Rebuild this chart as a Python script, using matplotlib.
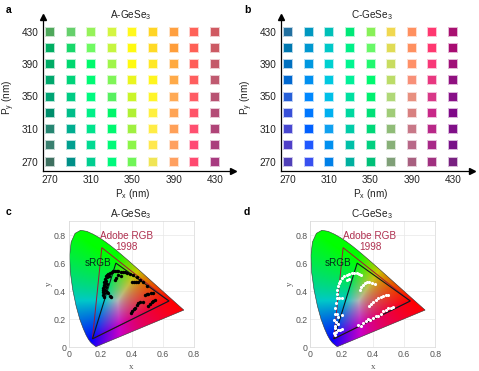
import numpy as np
import matplotlib
matplotlib.use("Agg")
import matplotlib.pyplot as plt
from matplotlib.patches import Polygon

plt.rcParams['font.family'] = ['Liberation Sans', 'DejaVu Sans']
plt.rcParams['mathtext.fontset'] = 'custom'
plt.rcParams['mathtext.rm'] = 'Liberation Sans'
plt.rcParams['mathtext.default'] = 'regular'

sizes_px = [270, 290, 310, 330, 350, 370, 390, 410, 430]
tick_vals = [270, 310, 350, 390, 430]

# rows run from Py=430 (top) to Py=270 (bottom), columns Px=270..430
colors_a = [
    ['#4FA85B', '#66D06C', '#96F25A', '#D4F542', '#FFF81E', '#FFD525', '#FFA040', '#FF6258', '#D05A62'],
    ['#00AE62', '#18D86A', '#70FA62', '#C6F540', '#FFFA10', '#FFDA25', '#FF9E3A', '#FF6056', '#CC5A64'],
    ['#00AC66', '#00D870', '#00FA6C', '#A0F54A', '#FFFA10', '#FFE825', '#FFAA40', '#FF5E58', '#C45A6A'],
    ['#00A86C', '#00D47A', '#00FA74', '#80F558', '#EAF520', '#FFF51E', '#FFAA48', '#FF5E5E', '#C05A70'],
    ['#00A474', '#00CC84', '#00FA80', '#58F060', '#CAF52A', '#FFF52A', '#FFAA55', '#FF5C64', '#B85272'],
    ['#008E6C', '#00BE8A', '#00F088', '#00F56A', '#B0F034', '#FFF040', '#FFA455', '#FF5468', '#B44C76'],
    ['#268672', '#00AE90', '#00E48C', '#00F870', '#A0F040', '#FFEC45', '#FFA058', '#FF5070', '#B04478'],
    ['#3A8070', '#00A090', '#00DA92', '#00FA78', '#8CF548', '#FFE84E', '#FFA060', '#FF4A74', '#AA3E7C'],
    ['#3E7060', '#009088', '#00CE90', '#00F87C', '#70F558', '#F0E555', '#FFA060', '#FF4A70', '#A83A80'],
]
colors_c = [
    ['#2270A0', '#0098C0', '#00C0B8', '#00E878', '#88F058', '#F0D850', '#FF9060', '#FF3870', '#A81070'],
    ['#0078B0', '#0098D0', '#00C8C8', '#00F088', '#68F868', '#E0DC55', '#FF9060', '#FF3870', '#A80C72'],
    ['#0070C0', '#0098E0', '#00D0D0', '#00F590', '#20F870', '#C8DC60', '#FF9068', '#F83878', '#A01078'],
    ['#0068D0', '#0090F0', '#00C8E0', '#00F098', '#00F870', '#BCDC68', '#F89078', '#E83880', '#901080'],
    ['#2860D8', '#0088FF', '#00C0E8', '#00E0A0', '#00F070', '#B0D878', '#E89080', '#D83888', '#881088'],
    ['#3850D8', '#0078FF', '#00B0F0', '#00D8A0', '#00E078', '#A0CC78', '#D88080', '#C82888', '#800888'],
    ['#4848D0', '#0060FF', '#10A0F0', '#00CCA8', '#00D878', '#90BC78', '#C87888', '#B82888', '#801088'],
    ['#5040C8', '#2058FF', '#0090F0', '#00C0A8', '#00D080', '#88B078', '#B86888', '#A82888', '#781088'],
    ['#5040B8', '#3850F0', '#0080E8', '#00B0A0', '#00C078', '#80A078', '#A86080', '#A03080', '#782080'],
]

# CIE 1931 spectral locus
locus_x = [0.1741, 0.1738, 0.1726, 0.1689, 0.1644, 0.1566, 0.1440, 0.1355, 0.1241, 0.1096, 0.0913, 0.0687,
           0.0454, 0.0235, 0.0082, 0.0039, 0.0139, 0.0389, 0.0743, 0.1142, 0.1547, 0.1929, 0.2296, 0.2658,
           0.3016, 0.3373, 0.3731, 0.4087, 0.4441, 0.4788, 0.5125, 0.5448, 0.5752, 0.6029, 0.6270, 0.6482,
           0.6658, 0.6915, 0.7079, 0.7190, 0.7260, 0.7300, 0.7334, 0.7347]
locus_y = [0.0050, 0.0049, 0.0048, 0.0069, 0.0109, 0.0177, 0.0297, 0.0399, 0.0578, 0.0868, 0.1327, 0.2007,
           0.2950, 0.4127, 0.5384, 0.6548, 0.7502, 0.8120, 0.8338, 0.8262, 0.8059, 0.7816, 0.7543, 0.7243,
           0.6923, 0.6589, 0.6245, 0.5896, 0.5547, 0.5202, 0.4866, 0.4544, 0.4242, 0.3965, 0.3725, 0.3514,
           0.3340, 0.3083, 0.2920, 0.2809, 0.2740, 0.2700, 0.2666, 0.2653]

adobe_x = [0.64, 0.21, 0.15]
adobe_y = [0.33, 0.71, 0.06]
srgb_x = [0.64, 0.30, 0.15]
srgb_y = [0.33, 0.60, 0.06]

pts_a_x = [0.215, 0.217, 0.218, 0.220, 0.222, 0.224, 0.226, 0.230, 0.224, 0.232, 0.235, 0.238, 0.241, 0.246, 0.252,
           0.258, 0.264, 0.273, 0.283, 0.294, 0.305, 0.316, 0.330, 0.345, 0.358, 0.372, 0.390, 0.410, 0.432, 0.454,
           0.475, 0.497, 0.222, 0.240, 0.250, 0.262, 0.270, 0.294, 0.303, 0.315, 0.330, 0.400, 0.415, 0.430, 0.443,
           0.486, 0.497, 0.507, 0.522, 0.539, 0.394, 0.405, 0.413, 0.420, 0.432, 0.443, 0.457, 0.471, 0.507, 0.518,
           0.529, 0.540, 0.550, 0.235, 0.245, 0.228]
pts_a_y = [0.373, 0.395, 0.420, 0.405, 0.445, 0.468, 0.435, 0.455, 0.385, 0.490, 0.475, 0.505, 0.515, 0.500, 0.525,
           0.510, 0.530, 0.540, 0.545, 0.545, 0.544, 0.545, 0.540, 0.538, 0.534, 0.530, 0.520, 0.515, 0.500, 0.480,
           0.462, 0.440, 0.360, 0.397, 0.385, 0.366, 0.355, 0.480, 0.495, 0.515, 0.505, 0.468, 0.465, 0.468, 0.468,
           0.373, 0.378, 0.382, 0.388, 0.385, 0.242, 0.262, 0.272, 0.283, 0.298, 0.313, 0.322, 0.325, 0.295, 0.305,
           0.320, 0.332, 0.337, 0.430, 0.450, 0.410]

pts_c_x = [0.158, 0.154, 0.156, 0.158, 0.162, 0.168, 0.170, 0.173, 0.176, 0.181, 0.190, 0.200, 0.216, 0.232, 0.248,
           0.264, 0.280, 0.296, 0.310, 0.322, 0.232, 0.250, 0.200, 0.185, 0.158, 0.150, 0.165, 0.179, 0.190, 0.200,
           0.165, 0.175, 0.200, 0.180, 0.155, 0.170, 0.318, 0.325, 0.335, 0.347, 0.360, 0.376, 0.392, 0.414, 0.377,
           0.390, 0.403, 0.418, 0.435, 0.450, 0.467, 0.483, 0.499, 0.307, 0.322, 0.339, 0.355, 0.371, 0.385, 0.403,
           0.418, 0.435, 0.450, 0.467, 0.483, 0.499, 0.515, 0.531]
pts_c_y = [0.135, 0.195, 0.235, 0.278, 0.315, 0.349, 0.380, 0.409, 0.435, 0.456, 0.475, 0.492, 0.505, 0.515, 0.520,
           0.527, 0.530, 0.527, 0.525, 0.515, 0.480, 0.490, 0.349, 0.350, 0.088, 0.105, 0.110, 0.124, 0.120, 0.128,
           0.180, 0.165, 0.230, 0.215, 0.155, 0.240, 0.409, 0.428, 0.444, 0.455, 0.463, 0.465, 0.461, 0.454, 0.297,
           0.310, 0.325, 0.338, 0.349, 0.358, 0.366, 0.370, 0.371, 0.159, 0.155, 0.171, 0.185, 0.202, 0.195, 0.211,
           0.220, 0.226, 0.240, 0.259, 0.268, 0.278, 0.283, 0.290]

W, H = 479, 371
fig = plt.figure(figsize=(W / 100, H / 100), dpi=100)


def add_axes(l, t, r, b):
    return fig.add_axes([l / W, 1 - b / H, (r - l) / W, (b - t) / H])


def grid_panel(l, r_arrow, x270, x430, colors, title, title_x, ylab_x):
    t, b = 17, 170.5
    y430, y270 = 31.5, 161.5
    ax = add_axes(l, t, r_arrow, b)
    sx = (x430 - x270) / 160
    sy = (y270 - y430) / 160
    ax.set_xlim(270 - (x270 - l) / sx, 270 + (r_arrow - x270) / sx)
    ax.set_ylim(270 - (b - y270) / sy, 270 + (y270 - t) / sy)
    for i, row in enumerate(colors):
        py = sizes_px[len(sizes_px) - 1 - i]
        for j, c in enumerate(row):
            ax.scatter(sizes_px[j], py, s=44, marker='s', color=c, alpha=0.3, linewidths=0)
            ax.scatter(sizes_px[j], py, s=30, marker='s', color=c, linewidths=0)
    for s in ('top', 'right'):
        ax.spines[s].set_visible(False)
    for s in ('left', 'bottom'):
        ax.spines[s].set_linewidth(0.9)
        ax.spines[s].set_color('black')
    ax.plot(1, 0, '>k', transform=ax.transAxes, clip_on=False, ms=4)
    ax.plot(0, 1, '^k', transform=ax.transAxes, clip_on=False, ms=4)
    ax.set_xticks(tick_vals)
    ax.set_yticks(tick_vals)
    ax.tick_params(length=0, labelsize=7.2, colors='#222222', pad=3.5)
    ax.set_xlabel(r'P$_x$ (nm)', fontsize=7.2, color='#222222')
    ax.xaxis.set_label_coords(((x270 + x430) / 2 - l) / (r_arrow - l), -0.105, transform=ax.transAxes)
    ax.set_ylabel(r'P$_y$ (nm)', fontsize=7.2, color='#222222')
    ax.yaxis.set_label_coords((ylab_x - l) / (r_arrow - l), (b - 97) / (b - t), transform=ax.transAxes)
    fig.text(title_x / W, 1 - 15 / H, title, fontsize=7.2, ha='center', va='center', color='#222222')


def cie_panel(l, r, title, title_x, px, py, pc, ms, adobe_cx, srgb_cx):
    t, b = 221, 347.3
    ax = add_axes(l, t, r, b)
    ax.set_xlim(0, 0.8)
    ax.set_ylim(0, 0.9)
    xs = np.linspace(0, 0.8, 320)
    ys = np.linspace(0, 0.9, 360)
    xx, yy = np.meshgrid(xs, ys)
    zz = 1 - xx - yy
    yy_safe = np.maximum(yy, 1e-3)
    X, Y, Z = xx / yy_safe, np.ones_like(xx), zz / yy_safe
    R = 3.2406 * X - 1.5372 * Y - 0.4986 * Z
    G = -0.9689 * X + 1.8758 * Y + 0.0415 * Z
    B = 0.0557 * X - 0.2040 * Y + 1.0570 * Z
    rgb = np.clip(np.dstack([R, G, B]), 0, None)
    by_sum = rgb / np.maximum(rgb.sum(axis=2, keepdims=True), 1e-6)
    by_max = rgb / np.maximum(rgb.max(axis=2, keepdims=True), 1e-6)
    rgb = np.clip(0.5 * by_sum + 0.5 * by_max, 0, 1) ** (1 / 1.2)
    im = ax.imshow(rgb, origin='lower', extent=(0, 0.8, 0, 0.9), aspect='auto', zorder=1, interpolation='bilinear')
    poly = Polygon(np.column_stack([locus_x, locus_y]), closed=True, transform=ax.transData,
                   facecolor='none', edgecolor='#333333', lw=0.4, zorder=2)
    ax.add_patch(poly)
    im.set_clip_path(poly)
    ax.set_xticks([0, 0.2, 0.4, 0.6, 0.8])
    ax.set_xticklabels(['0', '0.2', '0.4', '0.6', '0.8'])
    ax.set_yticks([0, 0.2, 0.4, 0.6, 0.8])
    ax.set_yticklabels(['0', '0.2', '0.4', '0.6', '0.8'])
    ax.grid(True, color='#E8E8E8', lw=0.5, zorder=0)
    ax.set_axisbelow(True)
    ax.tick_params(length=0, labelsize=6.3, colors='#555555', pad=2)
    for s in ax.spines.values():
        s.set_color('#D8D8D8')
        s.set_linewidth(0.5)
    ax.add_patch(Polygon(np.column_stack([adobe_x, adobe_y]), closed=True, fill=False,
                         edgecolor='#A01838', lw=0.7, zorder=3))
    ax.add_patch(Polygon(np.column_stack([srgb_x, srgb_y]), closed=True, fill=False,
                         edgecolor='#101820', lw=0.8, zorder=3))
    ax.scatter(px, py, s=ms, color=pc, linewidths=0, zorder=4)
    ax.text(adobe_cx, 0.755, 'Adobe RGB\n1998', color='#B03050', fontsize=7.2, ha='center', va='center',
            linespacing=1.15, zorder=5)
    ax.text(srgb_cx, 0.6, 'sRGB', color='#06281E', fontsize=7.2, ha='center', va='center', zorder=5)
    ax.set_xlabel('x', fontsize=6.5, family='Liberation Serif', color='#555555', labelpad=2.5)
    ax.set_ylabel('y', fontsize=6.5, family='Liberation Serif', color='#555555', labelpad=1)
    fig.text(title_x / W, 1 - 214.5 / H, title, fontsize=7.2, ha='center', va='center', color='#222222')


grid_panel(43, 233, 50, 215, colors_a, r'A-GeSe$_3$', 130.5, 16.5)
grid_panel(281, 472, 288, 453, colors_c, r'C-GeSe$_3$', 372, 255)
cie_panel(69, 194, r'A-GeSe$_3$', 130.5, pts_a_x, pts_a_y, 'black', 6, 0.37, 0.187)
cie_panel(310.3, 435.3, r'C-GeSe$_3$', 372, pts_c_x, pts_c_y, 'white', 5, 0.382, 0.177)

for lab, x, y in [('a', 8.5, 10), ('b', 247, 10), ('c', 8.5, 212), ('d', 247, 212)]:
    fig.text(x / W, 1 - y / H, lab, fontsize=7.5, fontweight='bold', ha='center', va='center', color='black')

fig.savefig('out.png', dpi=100)
